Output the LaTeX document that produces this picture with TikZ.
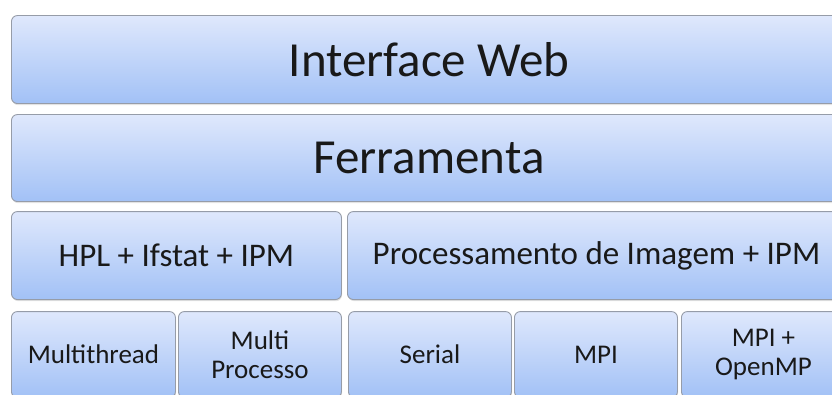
\documentclass[tikz,border=0pt]{standalone}
\usepackage{fontspec}
\setmainfont{Carlito}
\usepackage{tikz}
\usetikzlibrary{shadows}
\definecolor{layerTop}{RGB}{223,232,252}
\definecolor{layerBot}{RGB}{162,193,246}
\definecolor{layerLine}{RGB}{150,156,168}

\begin{document}
\begin{tikzpicture}[x=1pt, y=1pt,
  layer/.style={rectangle, rounded corners=6pt, draw=layerLine, line width=0.9pt,
                top color=layerTop, bottom color=layerBot, anchor=south west,
                inner sep=0pt, align=center, text=black!90,
                drop shadow={opacity=0.22, shadow xshift=0.6pt, shadow yshift=-1.6pt}},
  bigtxt/.style={font=\fontsize{49}{55}\selectfont},
  midtxt/.style={font=\fontsize{33}{38}\selectfont},
  smalltxt/.style={font=\fontsize{27}{29.5}\selectfont}]
  \useasboundingbox (0,0) rectangle (832,394);
  \clip (0,0) rectangle (832,394);

  % top layers
  \node[layer, bigtxt, minimum width=835pt, minimum height=88pt] (web) at (11,290) {Interface Web};
  \node[layer, bigtxt, minimum width=835pt, minimum height=87pt] (tool) at (11,192) {Ferramenta};

  % applications
  \node[layer, midtxt, minimum width=330pt, minimum height=88pt] (hpl) at (11,94) {HPL + Ifstat + IPM};
  \node[layer, midtxt, minimum width=498pt, minimum height=88pt] (img) at (347,94) {Processamento de Imagem + IPM};

  % execution modes
  \node[layer, smalltxt, minimum width=164pt, minimum height=86pt] (mthread) at (11,-4) {Multithread};
  \node[layer, smalltxt, minimum width=163pt, minimum height=86pt] (mproc) at (178,-4) {Multi\\Processo};
  \node[layer, smalltxt, minimum width=163pt, minimum height=86pt] (serial) at (348,-4) {Serial};
  \node[layer, smalltxt, minimum width=163pt, minimum height=86pt] (mpi) at (514,-4) {MPI};
  \node[layer, smalltxt, minimum width=164pt, minimum height=86pt] (hybrid) at (681,-4) {MPI +\\OpenMP};
\end{tikzpicture}
\end{document}
